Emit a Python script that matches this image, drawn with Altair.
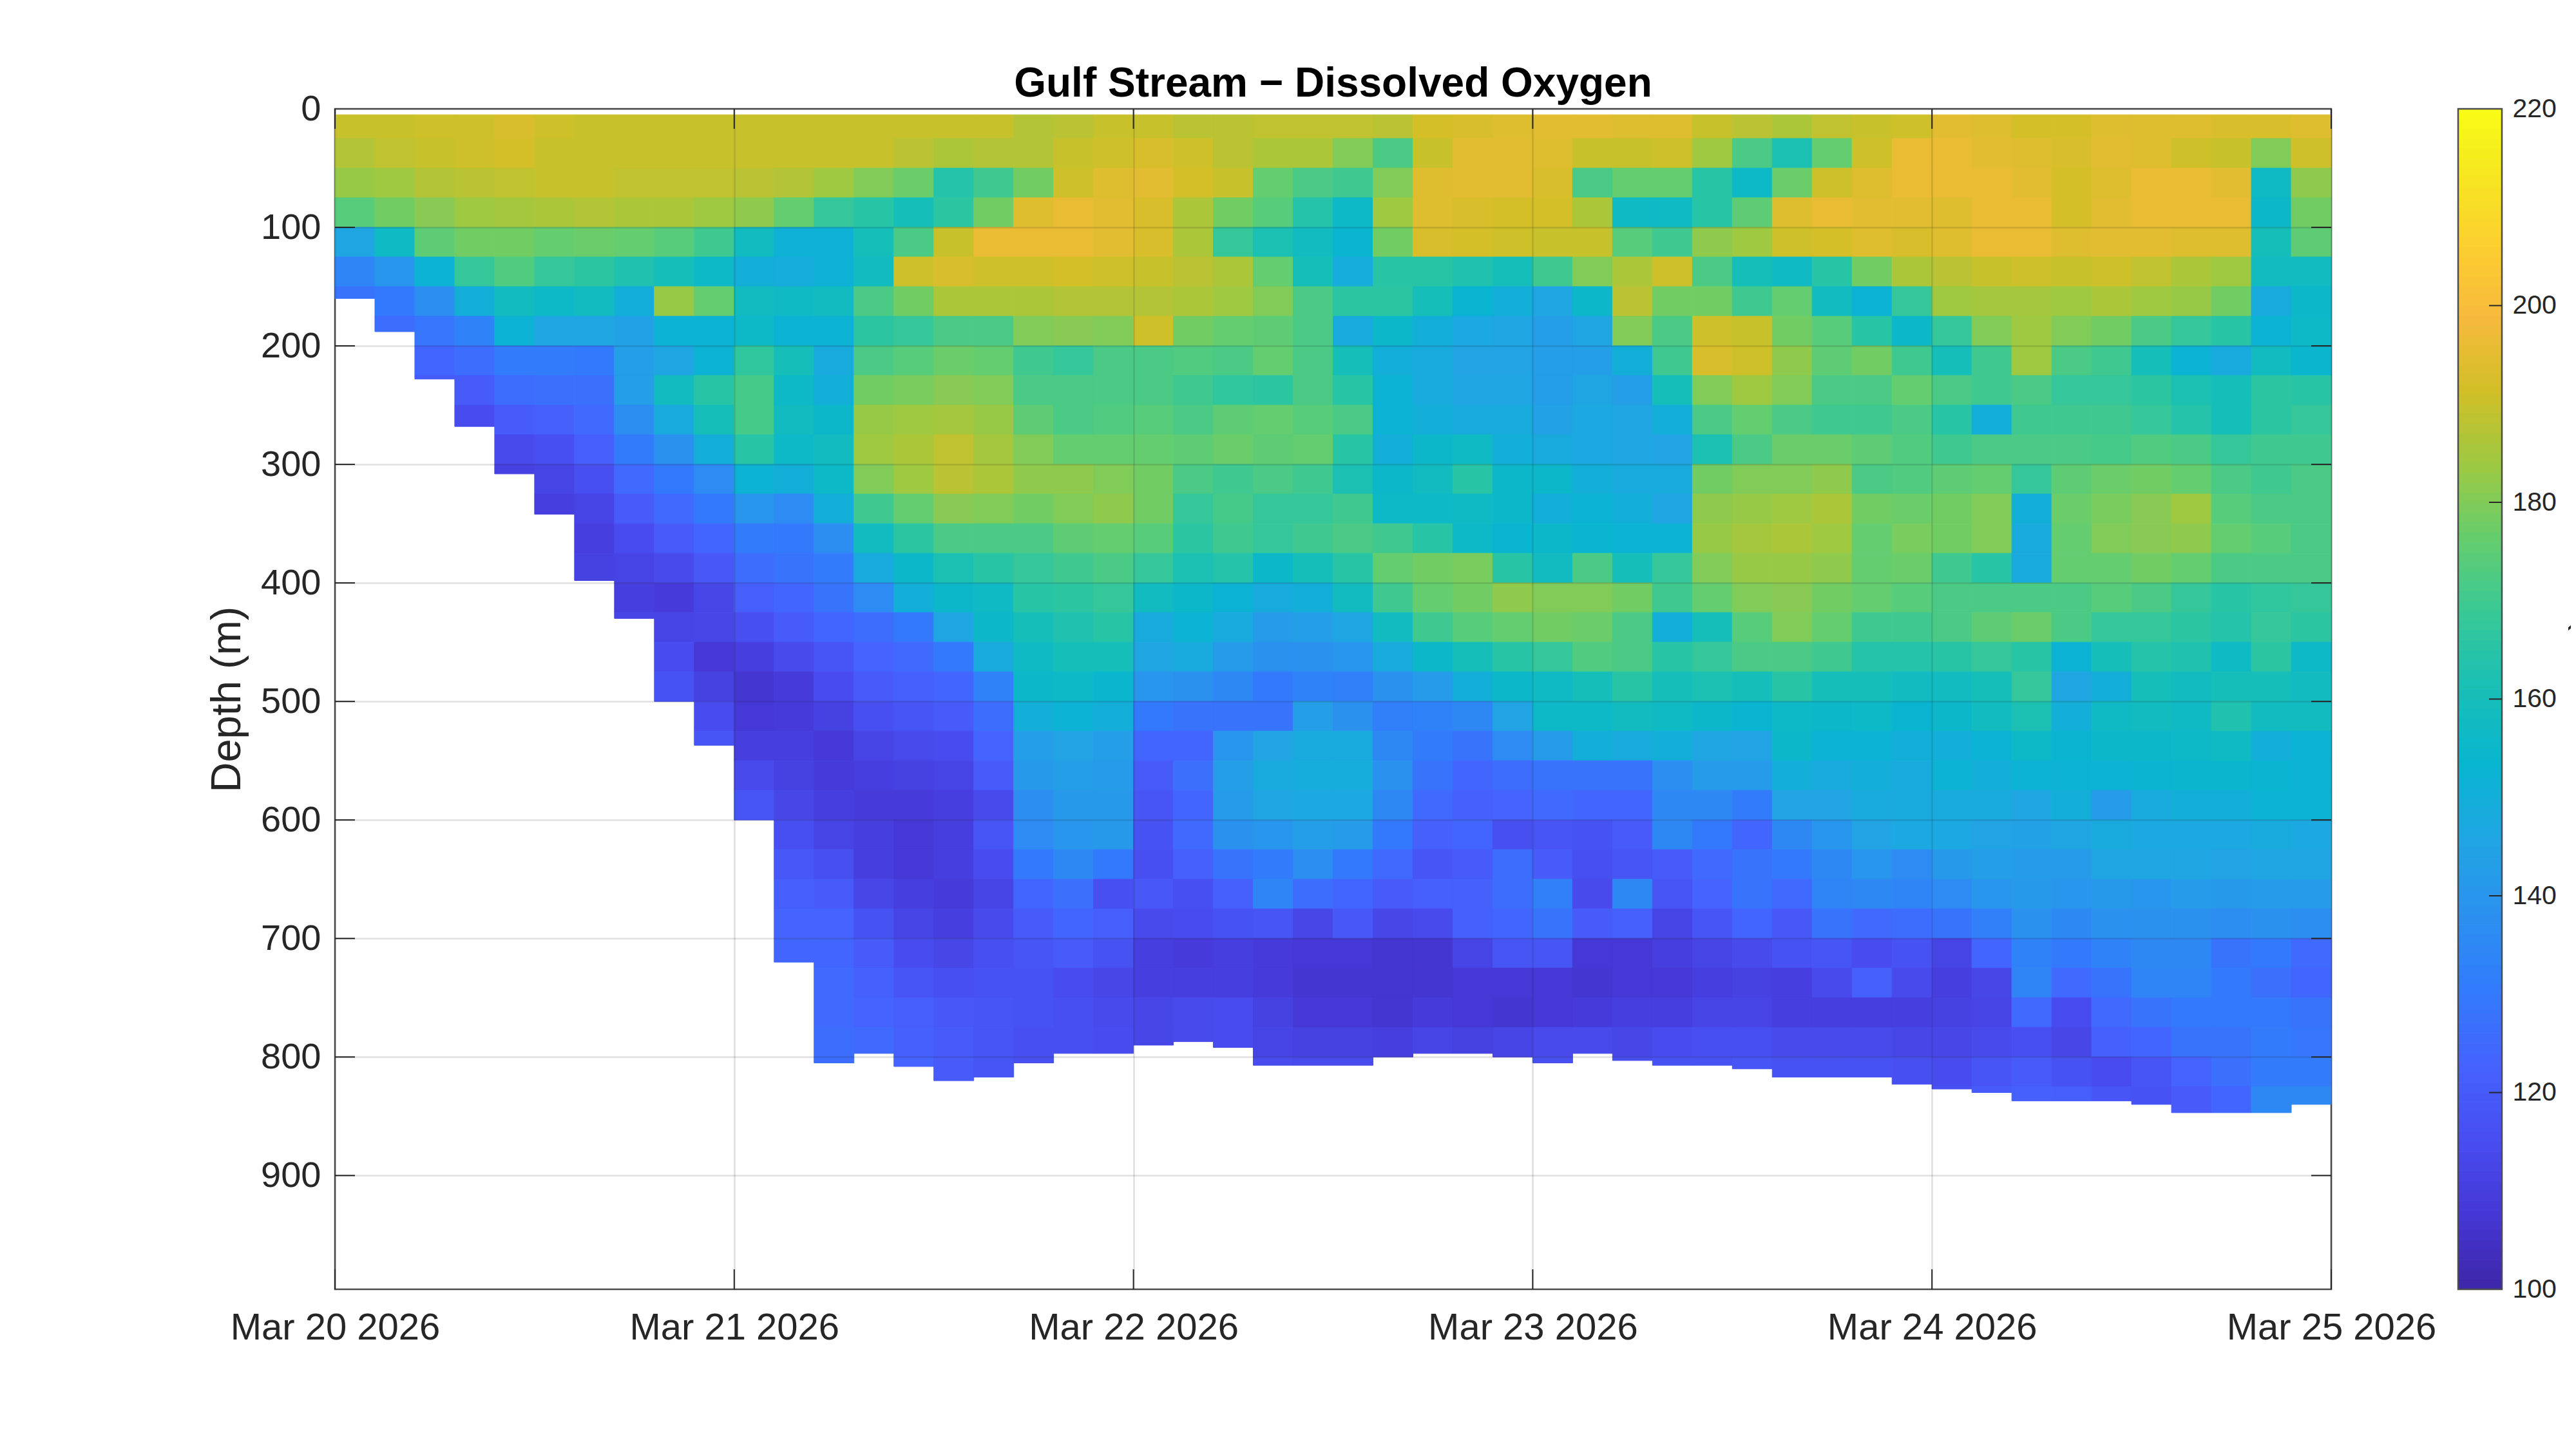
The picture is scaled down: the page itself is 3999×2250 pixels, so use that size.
import altair as alt
import pandas as pd

FONT = "Liberation Sans"
INK = "#262626"

tick_days = [0, 1, 2, 3, 4, 5]
depth_ticks = [0, 100, 200, 300, 400, 500, 600, 700, 800, 900]
bar_labels = [100, 120, 140, 160, 180, 200, 220]
bar_inner_ticks = [120, 140, 160, 180, 200]
bar_levels = list(range(100, 220))
parula_values = [100, 107.6, 115.2, 122.9, 130.5, 138.1, 145.7, 153.3, 161, 168.6, 176.2, 183.8, 191.4, 199, 206.7, 214.3, 220]
parula = ["#3e26a8", "#4537d5", "#484df0", "#4563fd", "#327bfc", "#2b91ef", "#20a5e3", "#08b5d0", "#18bfb6",
          "#37c897", "#64cd6f", "#9dc942", "#d1bf27", "#f8ba3d", "#fcd12f", "#f5ea1e", "#f9fb15"]

# bottom of the sampled water column (m), one value per 0.1-day column
bottom = [160, 188, 228, 268, 308, 342, 398, 430, 500, 537, 600, 720, 805, 797, 808, 820, 817,
          805, 797, 797, 790, 787, 792, 807, 807, 807, 800, 797, 797, 800, 805, 797, 803,
          807, 807, 810, 817, 817, 817, 823, 827, 830, 837, 837, 837, 840, 847, 847, 847, 840]

# dissolved oxygen read per column, in 25 m rows from the surface
c00 = [190,187,183,174,146,134,128]
c01 = [190,189,184,178,157,140,130,126]
c02 = [191,190,187,181,175,152,137,129,124,120]
c03 = [191,191,188,184,178,168,150,133,126,120,115]
c04 = [193,192,189,185,178,173,158,152,131,126,120,114,111]
c05 = [191,190,190,186,176,168,156,146,131,127,122,116,112,110]
c06 = [190,190,190,187,177,166,158,146,130,127,125,121,116,112,110,111]
c07 = [190,190,189,186,176,163,150,144,143,143,137,131,125,120,115,112,110,112]
c08 = [190,190,189,186,174,160,183,152,146,158,148,138,130,125,120,114,109,112,115,117]
c09 = [190,190,189,184,170,156,176,152,152,165,160,150,136,130,124,119,113,113,108,111,115,118]
c10 = [190,190,188,182,158,150,158,156,167,171,171,165,152,140,131,126,121,116,110,107,108,110,114,118]
c11 = [190,190,187,176,151,149,157,152,160,156,158,156,150,136,130,128,124,120,114,109,109,110,111,113,116,119,121,123,124]
c12 = [190,190,184,168,151,151,158,152,148,150,155,158,156,150,137,131,128,124,118,115,111,108,109,110,112,116,120,123,124,125,125,126,126]
c13 = [190,190,180,165,160,158,172,166,172,178,183,184,180,170,158,148,136,126,123,120,116,112,110,109,110,110,113,117,120,122,123,125]
c14 = [190,188,177,160,172,191,178,168,174,179,184,186,184,176,166,155,150,130,125,122,118,114,111,109,108,108,110,112,115,118,121,122,123]
c15 = [190,186,164,166,190,193,186,172,177,181,185,189,188,181,172,162,155,146,130,124,120,115,112,110,110,110,109,110,113,116,119,120,120]
c16 = [190,187,170,178,196,191,186,172,176,180,183,185,186,180,172,165,157,155,148,133,126,123,120,114,118,115,112,114,116,117,118,118,118]
c17 = [187,187,178,194,196,191,186,180,170,172,175,180,182,178,172,168,165,160,157,155,150,143,141,137,136,130,124,120,118,117,117,116,116]
c18 = [188,190,191,196,196,192,187,181,168,172,172,176,182,180,175,170,166,163,160,156,152,145,143,141,140,135,127,124,120,115,116,116]
c19 = [190,191,194,195,195,191,187,180,172,172,173,176,180,182,176,172,168,165,160,154,150,143,142,141,141,130,116,121,117,113,114,115]
c20 = [190,193,195,193,193,190,187,191,172,172,174,176,178,178,174,168,158,148,146,140,130,124,120,118,117,116,119,114,110,110,113,113]
c21 = [188,191,192,186,186,188,186,178,173,170,172,175,172,168,166,162,155,152,148,138,128,124,127,124,125,122,116,115,109,110,114,114]
c22 = [188,188,190,178,168,186,184,176,172,167,175,177,170,171,170,164,152,148,142,135,128,140,143,142,138,128,122,117,110,110,115,115]
c23 = [189,186,176,174,162,176,180,175,176,166,176,175,172,168,168,155,148,142,138,130,128,145,148,146,140,131,134,118,109,109,111,112,115]
c24 = [189,186,172,164,158,160,172,172,172,172,174,176,170,168,170,160,150,143,138,133,143,148,149,147,143,137,126,113,108,107,108,111,114]
c25 = [189,180,170,156,153,149,166,148,160,165,172,165,162,170,172,165,158,146,140,132,138,148,149,147,142,130,124,119,108,107,108,111,114]
c26 = [188,172,180,184,178,165,166,155,150,152,152,150,155,156,170,176,170,158,148,138,132,135,138,135,130,125,120,113,107,107,107,110]
c27 = [192,190,194,194,193,165,160,150,148,148,150,155,158,156,165,178,176,170,155,142,133,131,128,125,122,118,122,114,107,107,109,112]
c28 = [193,195,195,193,192,163,153,147,145,146,148,157,165,157,156,179,178,174,160,150,135,128,124,122,124,120,122,122,112,108,108,111]
c29 = [194,195,195,192,191,160,150,146,145,146,148,150,155,155,153,165,182,176,165,155,145,136,126,123,116,126,126,124,118,108,107,112]
c30 = [195,194,193,192,190,170,146,143,143,143,144,148,155,150,155,158,180,178,168,157,156,142,128,125,118,120,132,128,118,108,108,114,116]
c31 = [195,190,172,186,190,180,155,146,143,146,147,147,150,152,153,172,180,177,173,160,156,150,128,124,117,116,114,120,108,107,109,114]
c32 = [194,190,176,157,174,186,188,180,150,143,146,146,148,150,152,160,178,172,172,165,158,148,128,124,120,118,135,122,108,108,110,113,116]
c33 = [194,191,176,157,170,191,178,172,170,160,150,145,148,146,152,168,170,150,165,160,157,150,137,135,135,120,118,112,110,108,110,115,117]
c34 = [190,184,165,165,182,172,178,191,193,180,172,162,178,182,183,180,176,160,168,162,155,146,142,135,130,125,123,118,112,110,112,116,117]
c35 = [188,172,156,175,184,160,170,190,191,184,176,172,180,183,185,183,180,174,172,160,153,145,142,131,124,128,128,124,114,111,112,116,118]
c36 = [186,162,177,194,191,157,176,178,182,180,172,177,180,184,186,183,181,180,172,165,156,155,150,145,135,130,125,119,117,110,110,114,117]
c37 = [189,176,191,196,192,165,158,174,175,172,170,177,182,186,184,182,178,176,170,160,155,152,148,145,140,135,134,128,118,114,110,114,117]
c38 = [190,191,194,195,194,178,152,165,178,172,170,175,172,178,176,176,176,170,164,160,156,152,150,148,145,140,135,125,115,122,110,114,117]
c39 = [191,196,196,195,193,186,168,155,170,176,172,173,173,177,179,177,174,170,164,158,153,150,148,148,147,136,134,126,117,114,110,113,116]
c40 = [195,196,196,194,194,188,184,168,160,172,165,170,175,178,178,170,172,172,165,158,155,150,152,148,147,141,136,128,112,110,111,113,115,116]
c41 = [194,195,196,196,196,190,185,180,170,170,150,172,176,180,180,165,172,175,168,160,158,152,150,148,145,143,140,132,124,113,112,114,118,120]
c42 = [192,194,195,196,196,191,185,184,184,172,170,172,168,150,148,148,172,177,165,168,162,156,152,146,144,142,141,138,133,134,125,116,120,122]
c43 = [192,193,192,192,194,190,184,180,172,168,170,172,175,177,176,176,172,172,152,146,150,153,152,150,146,142,140,135,130,125,115,113,117,121]
c44 = [194,195,194,195,195,191,186,178,170,168,170,171,177,179,180,176,174,168,160,150,157,155,152,142,148,146,141,138,133,128,125,122,115,118]
c45 = [194,194,196,196,195,189,184,172,160,166,168,173,178,181,181,178,172,168,164,160,158,155,153,148,147,146,140,138,135,134,128,124,118,117]
c46 = [194,191,196,196,194,186,183,168,152,162,164,172,176,184,182,176,168,166,163,158,157,156,154,150,147,146,142,138,135,134,130,128,123,120]
c47 = [193,190,195,196,194,184,178,165,148,160,160,168,172,174,176,172,165,164,157,160,163,157,154,150,147,145,141,137,128,130,130,128,127,124]
c48 = [193,180,157,155,160,158,148,152,158,166,166,170,170,172,174,172,167,168,166,160,158,150,153,152,148,146,142,138,130,127,130,131,131,135]
c49 = [194,191,182,178,175,158,155,156,154,165,168,170,172,172,172,172,168,166,156,158,158,152,152,152,147,146,142,137,125,124,128,129,131,135]
columns = [c00,c01,c02,c03,c04,c05,c06,c07,c08,c09,c10,c11,c12,c13,c14,c15,c16,c17,c18,c19,c20,c21,c22,c23,c24,
           c25,c26,c27,c28,c29,c30,c31,c32,c33,c34,c35,c36,c37,c38,c39,c40,c41,c42,c43,c44,c45,c46,c47,c48,c49]

DAY_MS = 86400000
T0 = int(pd.Timestamp("2026-03-20", tz="UTC").value // 1000000)
SURFACE = 5
ROW = 25

rows = []
for i, col in enumerate(columns):
    for r, v in enumerate(col):
        z0 = max(r * ROW, SURFACE)
        z1 = min((r + 1) * ROW, bottom[i])
        if z0 < z1:
            rows.append({"t0": T0 + i * DAY_MS // 10, "t1": T0 + (i + 1) * DAY_MS // 10,
                         "z0": z0, "z1": z1, "oxygen": v})
cells = pd.DataFrame(rows)
day_frame = pd.DataFrame({"t": [T0 + d * DAY_MS for d in tick_days]})
depth_frame = pd.DataFrame({"d": depth_ticks[1:]})
bar_frame = pd.DataFrame({"lo": bar_levels, "hi": [v + 1 for v in bar_levels], "mid": [v + 0.5 for v in bar_levels]})
bar_edge = pd.DataFrame({"lo": [bar_labels[0]], "hi": [bar_labels[-1]]})
bar_tick_frame = pd.DataFrame({"v": bar_inner_ticks})
unit_frame = pd.DataFrame({"label": [")"]})

W, H = 3099, 1833
BAR_X0, BAR_X1 = 3296, 3364
x_scale = alt.Scale(type="utc", domain=[T0, T0 + 5 * DAY_MS])
y_scale = alt.Scale(domain=[0, 996], reverse=True, nice=False, zero=False)
bar_scale = alt.Scale(domain=[100, 220], nice=False, zero=False)
color_scale = alt.Scale(domain=parula_values, range=parula, interpolate="rgb")
x_axis = alt.Axis(
    values=[T0 + d * DAY_MS for d in tick_days], format="%b %d %Y", labelFont=FONT, labelFontSize=58,
    labelColor=INK, labelPadding=31, labelFlush=False, labelBound=False, labelOverlap=False, labelAngle=0,
    labelLimit=0, ticks=False, domain=False, grid=True, gridColor=INK, gridOpacity=0.15, gridWidth=2.5, zindex=1)

field = alt.Chart(cells).mark_rect(strokeWidth=1).encode(
    x=alt.X("t0:T", scale=x_scale, title=None, axis=x_axis),
    x2="t1:T",
    y=alt.Y("z0:Q", scale=y_scale, title="Depth (m)", axis=alt.Axis(
        values=depth_ticks, labelFont=FONT, labelFontSize=56, labelColor=INK, labelPadding=22, labelOverlap=False,
        labelFlush=False, labelBound=False, ticks=False, domain=False, grid=True, gridColor=INK, gridOpacity=0.15,
        gridWidth=2.5, zindex=1, titleFont=FONT, titleFontSize=65, titleFontWeight="normal", titleColor=INK,
        titlePadding=18)),
    y2="z1:Q",
    color=alt.Color("oxygen:Q", scale=color_scale, legend=None),
    stroke=alt.Stroke("oxygen:Q", scale=color_scale, legend=None),
)

tick = dict(color=INK, strokeWidth=2)
top_ticks = alt.Chart(day_frame).mark_rule(**tick).encode(
    x=alt.X("t:T", scale=x_scale, title=None, axis=x_axis), y=alt.value(0), y2=alt.value(31))
bottom_ticks = alt.Chart(day_frame).mark_rule(**tick).encode(
    x=alt.X("t:T", scale=x_scale, title=None, axis=x_axis), y=alt.value(H - 31), y2=alt.value(H))
left_ticks = alt.Chart(depth_frame).mark_rule(**tick).encode(
    y=alt.Y("d:Q", scale=y_scale, axis=None), x=alt.value(0), x2=alt.value(31))
right_ticks = alt.Chart(depth_frame).mark_rule(**tick).encode(
    y=alt.Y("d:Q", scale=y_scale, axis=None), x=alt.value(W - 31), x2=alt.value(W))

bar = alt.Chart(bar_frame).mark_rect(strokeWidth=1).encode(
    x=alt.value(BAR_X0), x2=alt.value(BAR_X1),
    y=alt.Y("lo:Q", scale=bar_scale, title=None, axis=alt.Axis(
        orient="right", offset=BAR_X1 - W, values=bar_labels, labelFont=FONT, labelFontSize=41, labelColor=INK,
        labelPadding=16, labelOverlap=False, labelFlush=False, labelBound=False, ticks=False, domain=False,
        grid=False)),
    y2="hi:Q",
    color=alt.Color("mid:Q", scale=color_scale, legend=None),
    stroke=alt.Stroke("mid:Q", scale=color_scale, legend=None),
)
bar_box = alt.Chart(bar_edge).mark_rect(fillOpacity=0, stroke="#4d4d4d", strokeWidth=2.5).encode(
    x=alt.value(BAR_X0), x2=alt.value(BAR_X1), y=alt.Y("lo:Q", scale=bar_scale, axis=None), y2="hi:Q")
bar_ticks = alt.Chart(bar_tick_frame).mark_rule(**tick).encode(
    x=alt.value(BAR_X1 - 20), x2=alt.value(BAR_X1), y=alt.Y("v:Q", scale=bar_scale, axis=None))
unit = alt.Chart(unit_frame).mark_text(
    angle=270, align="center", baseline="alphabetic", font=FONT, fontSize=56, color=INK).encode(
    x=alt.value(3507), y=alt.value(801), text="label:N")

chart = alt.layer(field, top_ticks, bottom_ticks, left_ticks, right_ticks, bar, bar_box, bar_ticks, unit).resolve_scale(
    y="independent"
).properties(
    width=W, height=H,
    autosize=alt.AutoSizeParams(type="none"),
    padding={"left": 512, "top": 161, "right": 372, "bottom": 240},
    background="white",
    title=alt.TitleParams("Gulf Stream \u2212 Dissolved Oxygen", font=FONT, fontSize=64, fontWeight="bold",
                          color="black", anchor="middle", offset=-22),
).configure_view(stroke="#4d4d4d", strokeWidth=2.5)

chart.save("out.html", embed_options={"renderer": "svg", "actions": False})
